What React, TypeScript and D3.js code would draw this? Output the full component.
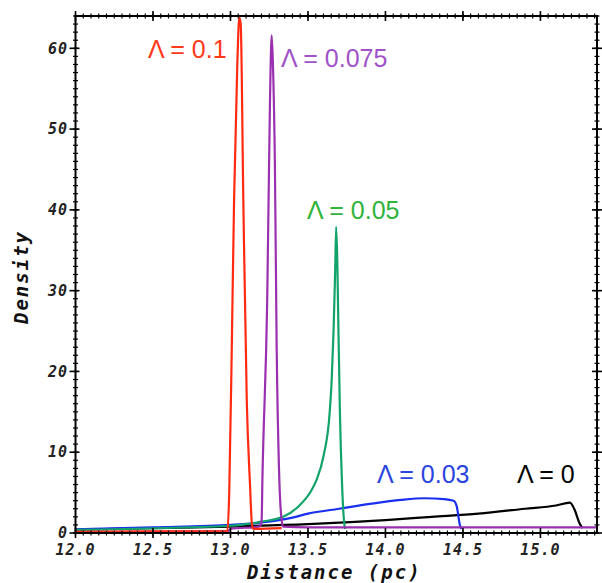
import React from 'react';
import * as d3 from 'd3';

const width = 602;
const height = 583;
const margin = { top: 16, right: 5, bottom: 50, left: 75.5 };

// axis ticks
const xTicks = [12.0, 12.5, 13.0, 13.5, 14.0, 14.5, 15.0];
const yTicks = [0, 10, 20, 30, 40, 50, 60];
const xDomain = [12, 15.365];
const yDomain = [0, 64];

// series: [distance (pc), density]
const lambda0: [number, number][] = [
  [12.0, 0.4], [12.5, 0.6], [13.0, 0.8], [13.5, 1.1], [14.0, 1.6], [14.3, 2.0],
  [14.6, 2.4], [14.9, 3.0], [15.1, 3.4], [15.19, 3.75], [15.22, 2.9], [15.25, 1.3], [15.27, 0.6],
];
const lambda003: [number, number][] = [
  [12.0, 0.45], [12.5, 0.7], [13.0, 1.0], [13.2, 1.3], [13.4, 1.9], [13.5, 2.4], [13.7, 3.0],
  [13.9, 3.6], [14.1, 4.1], [14.25, 4.3], [14.38, 4.2], [14.44, 4.0], [14.46, 3.3], [14.48, 1.0], [14.49, 0.5],
];
const lambda005: [number, number][] = [
  [12.0, 0.4], [13.0, 0.9], [13.2, 1.4], [13.34, 2.0], [13.45, 3.5], [13.52, 5.2], [13.556, 6.6],
  [13.6, 9.5], [13.64, 14.9], [13.653, 18.9], [13.665, 25], [13.675, 32], [13.682, 37.9],
  [13.69, 33], [13.695, 27], [13.706, 15], [13.72, 6], [13.734, 1.2], [13.74, 0.5],
];
const lambda0075: [number, number][] = [
  [12.0, 0.1], [12.98, 0.2], [13.0, 0.5], [13.19, 0.8], [13.201, 1.6], [13.206, 6.6], [13.237, 28.8],
  [13.255, 53.6], [13.266, 61.6], [13.274, 58], [13.287, 45], [13.298, 23], [13.313, 8], [13.33, 1.6],
  [13.34, 0.8], [13.5, 0.7], [15.365, 0.7],
];
const lambda01: [number, number][] = [
  [12.0, 0.15], [12.5, 0.2], [12.98, 0.25], [12.992, 5], [13.01, 25], [13.023, 41], [13.044, 58],
  [13.057, 63.8], [13.066, 63], [13.083, 41], [13.105, 16.5], [13.126, 6], [13.139, 1.0], [13.15, 0.5], [13.33, 0.6],
];

const series = [
  { name: 'Λ = 0', data: lambda0, color: '#000000', text: '#000000', lx: 517, ly: 483 },
  { name: 'Λ = 0.03', data: lambda003, color: '#1a2ff0', text: '#2a44e0', lx: 377, ly: 483 },
  { name: 'Λ = 0.05', data: lambda005, color: '#12a36a', text: '#2fb33a', lx: 307, ly: 219 },
  { name: 'Λ = 0.075', data: lambda0075, color: '#9a2fb0', text: '#a052c8', lx: 281, ly: 67 },
  { name: 'Λ = 0.1', data: lambda01, color: '#ff2a10', text: '#ff3a1a', lx: 148, ly: 58 },
];

const App = () => {
  const x = d3.scaleLinear().domain(xDomain).range([margin.left, width - margin.right]);
  const y = d3.scaleLinear().domain(yDomain).range([height - margin.bottom, margin.top]);
  const [x0, x1] = x.range();
  const [y0, y1] = y.range();

  const line = d3.line<[number, number]>()
    .x(d => x(d[0]))
    .y(d => y(d[1]))
    .curve(d3.curveMonotoneX);

  const xMinor = d3.range(240, 308).map(i => i / 20).filter(v => v <= xDomain[1]);
  const yMinor = d3.range(0, 65);

  const tickFont = {
    fontFamily: '"DejaVu Sans Mono", monospace',
    fontWeight: 'bold' as const,
    fontStyle: 'italic' as const,
  };

  return (
    <svg width={width} height={height} style={{ position: 'absolute', left: 0, top: 0, background: '#fff' }}>
      <defs>
        <clipPath id="plot">
          <rect x={x0} y={y1} width={x1 - x0} height={y0 - y1} />
        </clipPath>
      </defs>

      <g clipPath="url(#plot)">
        {series.map(s => (
          <path key={s.name} d={line(s.data) || ''} fill="none" stroke={s.color} strokeWidth={2.2} strokeLinejoin="round" />
        ))}
      </g>

      {/* frame */}
      <rect x={x0} y={y1} width={x1 - x0} height={y0 - y1} fill="none" stroke="#000" strokeWidth={2} />

      {/* minor ticks, all sides */}
      {xMinor.map(v => (
        <g key={'xm' + v}>
          <line x1={x(v)} x2={x(v)} y1={y0 - 2.5} y2={y0 + 2.5} stroke="#000" strokeWidth={1.2} />
          <line x1={x(v)} x2={x(v)} y1={y1 - 2.5} y2={y1 + 2.5} stroke="#000" strokeWidth={1.2} />
        </g>
      ))}
      {yMinor.map(v => (
        <g key={'ym' + v}>
          <line x1={x0 - 2.5} x2={x0 + 2.5} y1={y(v)} y2={y(v)} stroke="#000" strokeWidth={1.2} />
          <line x1={x1 - 2.5} x2={x1 + 2.5} y1={y(v)} y2={y(v)} stroke="#000" strokeWidth={1.2} />
        </g>
      ))}

      {/* major ticks + labels */}
      {xTicks.map(v => (
        <g key={'x' + v}>
          <line x1={x(v)} x2={x(v)} y1={y0 - 5} y2={y0 + 5} stroke="#000" strokeWidth={1.6} />
          <line x1={x(v)} x2={x(v)} y1={y1 - 5} y2={y1 + 5} stroke="#000" strokeWidth={1.6} />
          <text x={x(v)} y={555} textAnchor="middle" fontSize={15} letterSpacing={1} fill="#222" style={tickFont}>
            {v.toFixed(1)}
          </text>
        </g>
      ))}
      {yTicks.map(v => (
        <g key={'y' + v}>
          <line x1={x0 - 6} x2={x0 + 4} y1={y(v)} y2={y(v)} stroke="#000" strokeWidth={1.6} />
          <line x1={x1 - 5} x2={x1 + 5} y1={y(v)} y2={y(v)} stroke="#000" strokeWidth={1.6} />
          <text x={68} y={y(v)} dy="0.35em" textAnchor="end" fontSize={15} letterSpacing={1} fill="#222" style={tickFont}>
            {v}
          </text>
        </g>
      ))}

      {/* axis titles */}
      <text x={(x0 + x1) / 2 - 2} y={579} textAnchor="middle" fontSize={19} letterSpacing={2} fill="#111" style={tickFont}>
        Distance (pc)
      </text>
      <text transform={`translate(28, ${277}) rotate(-90)`} textAnchor="middle" fontSize={19} letterSpacing={2} fill="#111" style={tickFont}>
        Density
      </text>

      {/* curve labels */}
      {series.map(s => (
        <text key={'l' + s.name} x={s.lx} y={s.ly} fontSize={25} fill={s.text}
          style={{ fontFamily: '"Liberation Sans", Arial, sans-serif' }}>
          {s.name}
        </text>
      ))}
    </svg>
  );
};

export default App;
